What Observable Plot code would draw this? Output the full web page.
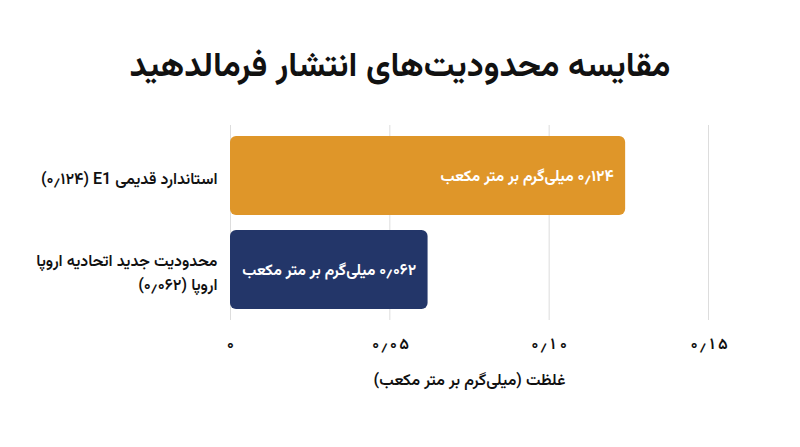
<!DOCTYPE html>
<html>
<head>
<meta charset="utf-8">
<script src="https://cdn.jsdelivr.net/npm/d3@7"></script>
<script src="https://cdn.jsdelivr.net/npm/@observablehq/plot@0.6"></script>
<style>
  body { margin: 0; background: #fff; width: 800px; height: 447px; overflow: hidden; }
  #title { height: 110px; line-height: 136px; text-align: center; font-family: Vazirmatn, "Noto Sans Arabic", "DejaVu Sans", sans-serif; font-weight: bold; font-size: 34px; color: #111; }
  #chart svg { display: block; }
</style>
</head>
<body>
<div id="title" dir="rtl">مقایسه محدودیت‌های انتشار فرمالدهید</div>
<div id="chart"></div>
<script>
const categories = ["استاندارد قدیمی E1 (۰٫۱۲۴)", "محدودیت جدید اتحادیه اروپا\nاروپا (۰٫۰۶۲)"];
const values = [0.124, 0.062];
const barLabels = ["۰٫۱۲۴ میلی‌گرم بر متر مکعب", "۰٫۰۶۲ میلی‌گرم بر متر مکعب"];
const colors = ["#DF9629", "#233669"];
const tickValues = [0, 0.05, 0.10, 0.15];
const tickLabels = ["۰", "۰٫۰۵", "۰٫۱۰", "۰٫۱۵"];
const xLabel = "غلظت (میلی‌گرم بر متر مکعب)";

const rtl = s => s.split("\n").map(l => "\u202B" + l + "\u202C").join("\n");
const data = categories.map((c, i) => ({cat: c, value: values[i], label: barLabels[i], color: colors[i]}));

const plot = Plot.plot({
  width: 800,
  height: 337,
  marginTop: 15,
  marginBottom: 127,
  marginLeft: 230,
  marginRight: 92,
  style: {fontFamily: 'Vazirmatn, "Noto Sans Arabic", "DejaVu Sans", sans-serif', fontSize: "15px", fontWeight: 600, color: "#111"},
  x: {domain: [0, 0.15]},
  y: {domain: categories, paddingInner: 0.164, paddingOuter: 0.114},
  marks: [
    Plot.gridX(tickValues, {stroke: "#dddddd", strokeOpacity: 1}),
    Plot.barX(data, {y: "cat", x: "value", fill: "color", rx: 6}),
    Plot.text(data, {y: "cat", x: "value", text: d => rtl(d.label), textAnchor: "end", dx: -12, fill: "white", fontSize: 15.5, fontWeight: 700}),
    Plot.axisY({tickSize: 0, tickPadding: 13, tickFormat: d => rtl(d), label: null, fontSize: 16, lineHeight: 1.5}),
    Plot.axisX(tickValues, {tickSize: 0, tickPadding: 17, tickFormat: d => tickLabels[tickValues.indexOf(d)], label: rtl(xLabel), labelAnchor: "center", labelOffset: 64, labelArrow: "none", fontSize: 16})
  ]
});
document.getElementById("chart").appendChild(plot);
</script>
</body>
</html>
